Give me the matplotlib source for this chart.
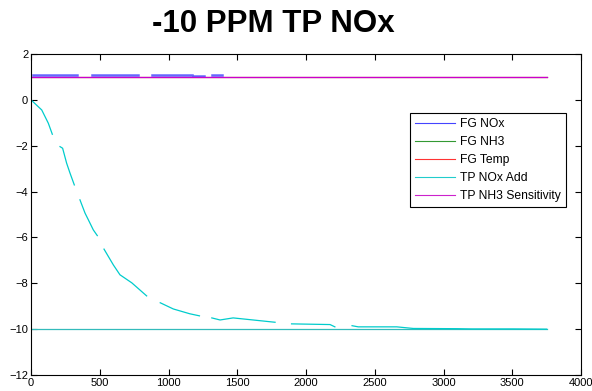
import numpy as np
import matplotlib
matplotlib.use("Agg")
import matplotlib.pyplot as plt

plt.rcParams['font.family'] = ['Liberation Sans', 'DejaVu Sans']

nan = np.nan

# FG NOx: raised segments near 1 (gaps = NaN)
fg_nox_x = [15, 335, nan, 440, 780, nan, 880, 1170, nan, 1175, 1260, nan, 1315, 1390]
fg_nox_y = [1.1, 1.1, nan, 1.1, 1.1, nan, 1.1, 1.1, nan, 1.06, 1.06, nan, 1.07, 1.07]

# FG NH3 / FG Temp / TP NH3 Sensitivity: flat at 1
flat_x = [0, 3750]
fg_nh3_y = [1.0, 1.0]
fg_temp_y = [1.0, 1.0]
tp_nh3_y = [1.0, 1.0]

# TP NOx Add: decaying curve with gaps, plus flat -10 line
tp_nox_x = [0, 78, 102, 126, 155, nan,
            211, 230, 259, 284, 315, nan,
            356, 393, 417, 453, 482, nan,
            531, 599, 647, 733, 841, nan,
            940, 1035, 1155, 1225, nan,
            1315, 1375, 1470, 1615, 1775, nan,
            1895, 2175, 2210, nan,
            2335, 2380, 2660, 2780, 3100, 3200, 3500, 3750]
tp_nox_y = [0.0, -0.44, -0.73, -1.02, -1.5, nan,
            -2.04, -2.11, -2.76, -3.2, -3.71, nan,
            -4.36, -4.94, -5.23, -5.67, -5.92, nan,
            -6.51, -7.2, -7.63, -7.98, -8.55, nan,
            -8.85, -9.12, -9.33, -9.42, nan,
            -9.51, -9.6, -9.51, -9.6, -9.7, nan,
            -9.77, -9.8, -9.9, nan,
            -9.85, -9.9, -9.9, -9.97, -9.98, -9.99, -9.99, -10.0]
tp_nox_flat_y = [-10.0, -10.0]

fig = plt.figure(figsize=(5.92, 3.91), dpi=100)
ax = fig.add_axes([31 / 592, 16 / 391, 550 / 592, 321 / 391])

ax.plot(flat_x, fg_nh3_y, color='#008000', lw=0.8, label='FG NH3')
ax.plot(flat_x, fg_temp_y, color='#ff0000', lw=0.8, label='FG Temp')
ax.plot(fg_nox_x, fg_nox_y, color='#3333ff', lw=1.8, alpha=0.75, label='FG NOx')
ax.plot(flat_x, tp_nox_flat_y, color='#33bbbb', lw=0.9)
ax.plot(tp_nox_x, tp_nox_y, color='#00cccc', lw=0.9, label='TP NOx Add')
ax.plot(flat_x, tp_nh3_y, color='#cc00cc', lw=0.9, label='TP NH3 Sensitivity')

ax.set_xlim(0, 4000)
ax.set_ylim(-12, 2)
ax.set_xticks(np.arange(0, 4001, 500))
ax.set_yticks(np.arange(-12, 3, 2))
ax.tick_params(direction='in', top=True, right=True, length=4, labelsize=8, pad=2)

handles, labels = ax.get_legend_handles_labels()
order = ['FG NOx', 'FG NH3', 'FG Temp', 'TP NOx Add', 'TP NH3 Sensitivity']
hmap = dict(zip(labels, handles))
leg = ax.legend([hmap[o] for o in order], order, loc='upper left',
                bbox_to_anchor=(0.689, 0.816), borderaxespad=0, fontsize=8.7,
                fancybox=False, framealpha=1, edgecolor='black', borderpad=0.4,
                labelspacing=0.5, handlelength=3.3, handletextpad=0.45)
leg.get_frame().set_linewidth(0.8)
leg_colors = ['#4444ff', '#339933', '#ff3333', '#22cccc', '#cc22cc']
for h, c in zip(leg.legend_handles, leg_colors):
    h.set_linewidth(0.8)
    h.set_alpha(1)
    h.set_color(c)

fig.suptitle('-10 PPM TP NOx', fontsize=22.5, fontweight='bold', x=0.462, y=0.977)

fig.savefig('out.png', dpi=100)
